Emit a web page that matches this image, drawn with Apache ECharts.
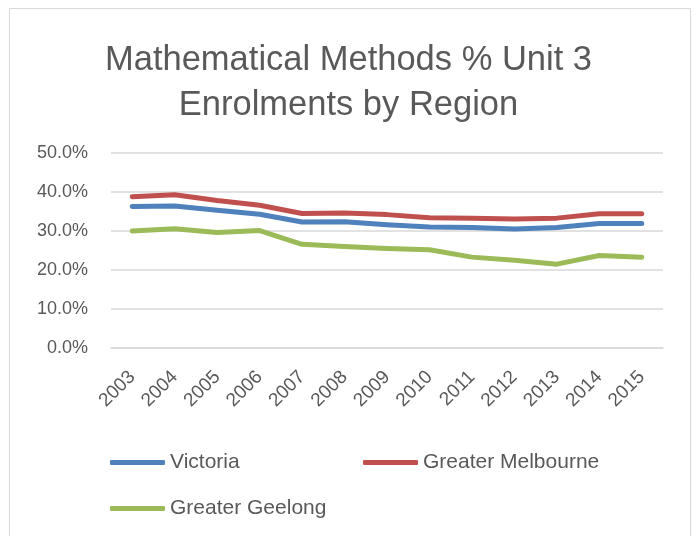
<!DOCTYPE html>
<html>
<head>
<meta charset="utf-8">
<script src="https://cdn.jsdelivr.net/npm/echarts@6/dist/echarts.min.js"></script>
<style>
html,body{margin:0;padding:0;background:#fff;}
#c{width:697px;height:536px;}
</style>
</head>
<body>
<div id="c"></div>
<script>
var years = ['2003','2004','2005','2006','2007','2008','2009','2010','2011','2012','2013','2014','2015'];
var victoria = [36.3,36.4,35.3,34.3,32.3,32.4,31.6,31.0,30.9,30.5,30.9,31.9,31.9];
var greaterMelbourne = [38.8,39.3,37.8,36.6,34.5,34.6,34.2,33.4,33.3,33.1,33.3,34.4,34.4];
var greaterGeelong = [30.0,30.6,29.6,30.1,26.6,26.0,25.5,25.2,23.3,22.5,21.5,23.7,23.3];
var yTicks = [0,10,20,30,40,50];

var FONT = 'Liberation Sans';
var TXT = '#595959';
var chart = echarts.init(document.getElementById('c'));
function legendFor(name, left, top){
  return {
    data:[name], left:left, top:top, icon:'roundRect', itemWidth:55, itemHeight:5,
    textStyle:{fontFamily:FONT, fontSize:21, color:TXT}
  };
}
chart.setOption({
  animation:false,
  backgroundColor:'#fff',
  graphic:[{type:'rect', shape:{x:9.5,y:8.5,width:681,height:540}, style:{fill:null, stroke:'#D9D9D9', lineWidth:1}, silent:true}],
  title:{
    text:'Mathematical Methods % Unit 3\nEnrolments by Region',
    left:'center', top:33,
    textStyle:{fontFamily:FONT, fontSize:34.5, fontWeight:'normal', color:TXT, lineHeight:45}
  },
  legend:[
    legendFor('Victoria', 105, 447),
    legendFor('Greater Melbourne', 358, 447),
    legendFor('Greater Geelong', 105, 493)
  ],
  grid:{left:111, right:34, top:153, bottom:188, containLabel:false},
  xAxis:{
    type:'category', data:years, boundaryGap:true,
    axisLine:{show:true, lineStyle:{color:'#D9D9D9', width:1.5}},
    axisTick:{show:false},
    axisLabel:{rotate:45, fontFamily:FONT, fontSize:19, color:TXT, margin:26, interval:0}
  },
  yAxis:{
    type:'value', min:yTicks[0], max:yTicks[yTicks.length-1], interval:10,
    axisLine:{show:false}, axisTick:{show:false},
    splitLine:{lineStyle:{color:'#D9D9D9', width:1.5}},
    axisLabel:{fontFamily:FONT, fontSize:18, color:TXT, margin:23, formatter:function(v){return v.toFixed(1)+'%';}}
  },
  series:[
    {name:'Victoria', type:'line', data:victoria, symbol:'none', lineStyle:{width:5, color:'#4F81BD', cap:'round', join:'round'}, itemStyle:{color:'#4F81BD'}},
    {name:'Greater Melbourne', type:'line', data:greaterMelbourne, symbol:'none', lineStyle:{width:5, color:'#C0504D', cap:'round', join:'round'}, itemStyle:{color:'#C0504D'}},
    {name:'Greater Geelong', type:'line', data:greaterGeelong, symbol:'none', lineStyle:{width:5, color:'#9BBB59', cap:'round', join:'round'}, itemStyle:{color:'#9BBB59'}}
  ]
});
</script>
</body>
</html>
